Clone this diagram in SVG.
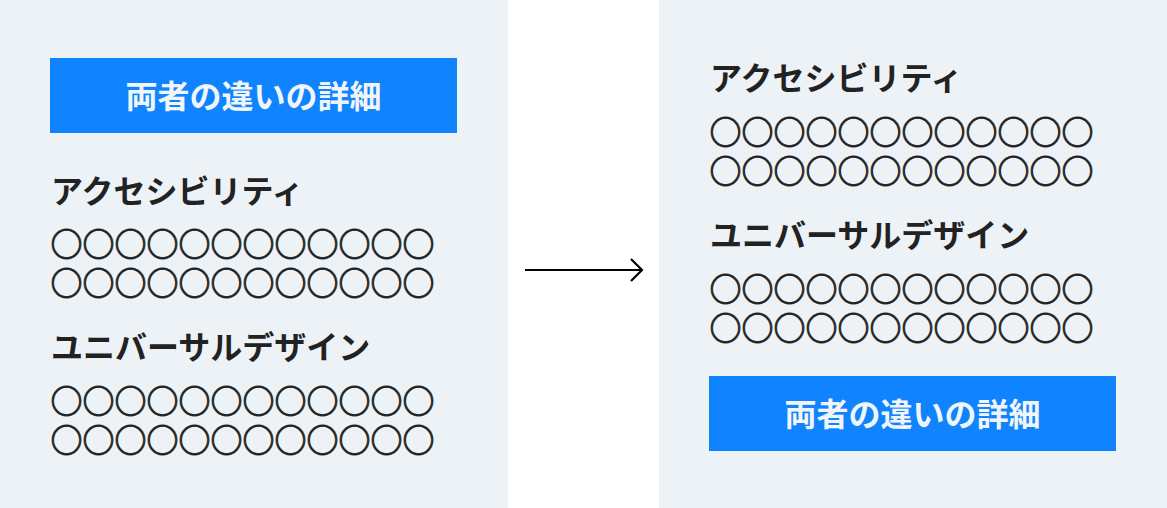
<svg xmlns="http://www.w3.org/2000/svg" width="1167" height="508" viewBox="0 0 1167 508">
  <defs>
    <style>
      .panel { fill: #EDF2F6; }
      .btn { fill: #1084FF; }
      .btntxt { font-family: "Noto Sans CJK JP", "Noto Sans", sans-serif; font-size: 32px; font-weight: 700; fill: #F2F5F8; text-anchor: middle; }
      .head { font-family: "Noto Sans CJK JP", "Noto Sans", sans-serif; font-size: 32px; font-weight: 700; fill: #222222; }
      .body { font-family: "Noto Sans CJK JP", "Noto Sans", sans-serif; font-size: 32px; font-weight: 700; fill: #222222; stroke: #222222; stroke-width: 0.8px; }
      .conn { stroke: #000000; stroke-width: 2; fill: none; }
    </style>
    <marker id="chev" viewBox="0 0 14 24" refX="12" refY="12" markerWidth="14" markerHeight="24" markerUnits="userSpaceOnUse" orient="auto">
      <path d="M1,1 L12,12 L1,23" fill="none" stroke="#000000" stroke-width="2.2"/>
    </marker>
  </defs>

  <rect x="0" y="0" width="1167" height="508" fill="#FFFFFF"/>

  <g id="before">
    <rect class="panel" x="0" y="0" width="508" height="508"/>
    <g id="before-button">
      <rect class="btn" x="50" y="58" width="407" height="75"/>
      <text class="btntxt" x="253.5" y="107.7">両者の違いの詳細</text>
    </g>
    <g id="before-accessibility">
      <text class="head" x="51" y="202.8">アクセシビリティ</text>
      <text class="body" x="50.5" y="255.7">○○○○○○○○○○○○</text>
      <text class="body" x="50.5" y="294.7">○○○○○○○○○○○○</text>
    </g>
    <g id="before-universal">
      <text class="head" x="51" y="358.8">ユニバーサルデザイン</text>
      <text class="body" x="50.5" y="412.7">○○○○○○○○○○○○</text>
      <text class="body" x="50.5" y="451.7">○○○○○○○○○○○○</text>
    </g>
  </g>

  <g id="after">
    <rect class="panel" x="659" y="0" width="508" height="508"/>
    <g id="after-accessibility">
      <text class="head" x="710" y="89.8">アクセシビリティ</text>
      <text class="body" x="709.5" y="143.9">○○○○○○○○○○○○</text>
      <text class="body" x="709.5" y="183">○○○○○○○○○○○○</text>
    </g>
    <g id="after-universal">
      <text class="head" x="710" y="246.8">ユニバーサルデザイン</text>
      <text class="body" x="709.5" y="300.9">○○○○○○○○○○○○</text>
      <text class="body" x="709.5" y="339.7">○○○○○○○○○○○○</text>
    </g>
    <g id="after-button">
      <rect class="btn" x="709" y="376" width="407" height="75"/>
      <text class="btntxt" x="912.5" y="425.7">両者の違いの詳細</text>
    </g>
  </g>

  <g id="connectors">
    <line class="conn" x1="525" y1="270" x2="642" y2="270" marker-end="url(#chev)"/>
  </g>
</svg>
